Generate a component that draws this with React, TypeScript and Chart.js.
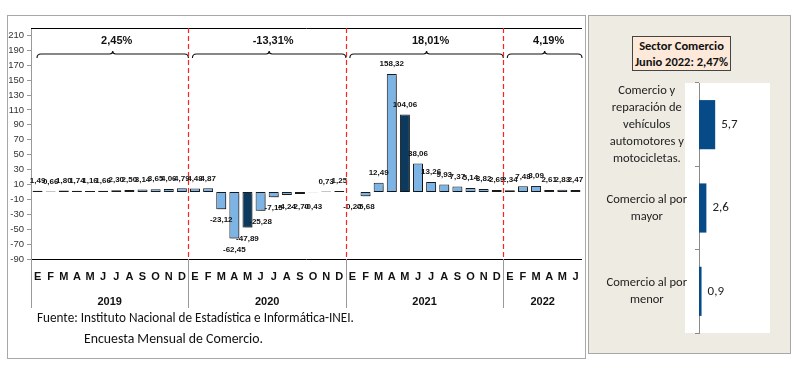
import React, { useEffect, useRef } from 'react';
import { Chart, registerables } from 'chart.js';

Chart.register(...registerables);

// ---------- data ----------
const monthLetters = ['E', 'F', 'M', 'A', 'M', 'J', 'J', 'A', 'S', 'O', 'N', 'D'];
const years = ['2019', '2020', '2021', '2022'];
const values2019 = [1.49, 0.66, 1.8, 1.74, 1.16, 1.66, 2.3, 2.5, 3.14, 3.65, 4.06, 4.79];
const values2020 = [4.48, 4.87, -23.12, -62.45, -47.89, -25.28, -7.15, -4.24, -2.7, -0.43, 0.73, 1.25];
const values2021 = [-0.2, -5.68, 12.49, 158.32, 104.06, 38.06, 13.26, 9.93, 7.37, 5.14, 3.82, 2.69];
const values2022 = [2.34, 7.48, 8.09, 2.61, 2.83, 2.47];
const yearGrowth = ['2,45%', '-13,31%', '18,01%', '4,19%'];
const highlightedMonths = ['2020-5', '2021-5'];
const yTicks = [-90, -70, -50, -30, -10, 10, 30, 50, 70, 90, 110, 130, 150, 170, 190, 210];

const sectorTitle = ['Sector Comercio', 'Junio 2022: 2,47%'];
const sectorCategories = [
  ['Comercio y', 'reparación de', 'vehículos', 'automotores y', 'motocicletas.'],
  ['Comercio al por', 'mayor'],
  ['Comercio al por', 'menor'],
];
const sectorValues = [5.7, 2.6, 0.9];

const sourceLines = ['Fuente: Instituto Nacional de Estadística e Informática-INEI.', 'Encuesta Mensual de Comercio.'];

// ---------- derived ----------
const seriesByYear = [values2019, values2020, values2021, values2022];
const categories: string[] = [];
const values: number[] = [];
const keys: string[] = [];
seriesByYear.forEach((arr, yi) => {
  arr.forEach((v, m) => {
    categories.push(monthLetters[m]);
    values.push(v);
    keys.push(years[yi] + '-' + (m + 1));
  });
});

const NARROW = "'Liberation Sans Narrow', 'Liberation Sans', Arial, sans-serif";
const ARIAL = "'Liberation Sans', Arial, sans-serif";
const CALIBRI = "Carlito, Lato, 'Open Sans', sans-serif";

const fmt = (v: number, d: number) => v.toFixed(d).replace('.', ',');

export default function App() {
  const leftRef = useRef<HTMLCanvasElement>(null);
  const rightRef = useRef<HTMLCanvasElement>(null);

  useEffect(() => {
    document.body.style.margin = '0';

    const leftPlugin = {
      id: 'leftDecor',
      beforeDatasetsDraw(chart: any) {
        const ctx = chart.ctx;
        ctx.save();
        ctx.shadowColor = 'rgba(0,0,0,0.35)';
        ctx.shadowOffsetX = 2;
        ctx.shadowOffsetY = 2;
        ctx.shadowBlur = 2;
      },
      afterDatasetsDraw(chart: any) {
        const ctx = chart.ctx;
        ctx.restore();
        const meta = chart.getDatasetMeta(0);
        const yScale = chart.scales.y;
        const zeroY = yScale.getPixelForValue(0);
        ctx.save();
        ctx.font = `bold 8px ${NARROW}`;
        ctx.fillStyle = '#111';
        ctx.textAlign = 'center';
        ctx.textBaseline = 'middle';
        meta.data.forEach((bar: any, i: number) => {
          const v = values[i];
          const txt = fmt(v, 2);
          let y;
          if (v >= 0) y = bar.y - 10;
          else y = Math.max(bar.y + 11, zeroY + 15);
          ctx.fillText(txt, bar.x, y);
        });
        ctx.restore();
      },
      afterDraw(chart: any) {
        const ctx = chart.ctx;
        const a = chart.chartArea;
        const x = chart.scales.x;
        const half = (x.getPixelForValue(1) - x.getPixelForValue(0)) / 2;
        ctx.save();
        ctx.strokeStyle = '#000';
        ctx.lineWidth = 1;
        ctx.beginPath();
        ctx.moveTo(a.left, a.top + 0.5);
        ctx.lineTo(a.right, a.top + 0.5);
        ctx.moveTo(a.left, a.bottom + 0.5);
        ctx.lineTo(a.right, a.bottom + 0.5);
        ctx.stroke();
        let start = 0;
        seriesByYear.forEach((arr, yi) => {
          const end = start + arr.length - 1;
          const xs = x.getPixelForValue(start) - half;
          const xe = x.getPixelForValue(end) + half;
          ctx.strokeStyle = '#9a9a9a';
          ctx.lineWidth = 1;
          ctx.setLineDash([]);
          ctx.beginPath();
          ctx.moveTo(Math.round(xs) + 0.5, a.bottom);
          ctx.lineTo(Math.round(xs) + 0.5, a.bottom + 49);
          ctx.stroke();
          if (yi > 0) {
            ctx.strokeStyle = '#ff2020';
            ctx.lineWidth = 1.2;
            ctx.setLineDash([5, 3]);
            ctx.beginPath();
            ctx.moveTo(Math.round(xs) + 0.5, a.top);
            ctx.lineTo(Math.round(xs) + 0.5, a.bottom);
            ctx.stroke();
            ctx.setLineDash([]);
          }
          const cx = (x.getPixelForValue(start) + x.getPixelForValue(end)) / 2;
          ctx.fillStyle = '#111';
          ctx.font = `bold 11px ${ARIAL}`;
          ctx.textAlign = 'center';
          ctx.textBaseline = 'middle';
          ctx.fillText(years[yi], cx, a.bottom + 43);
          const bx0 = xs + (yi === 0 ? 6 : 4);
          const bx1 = xe;
          const by = 54;
          const bm = (bx0 + bx1) / 2;
          ctx.strokeStyle = '#111';
          ctx.lineWidth = 1.1;
          ctx.beginPath();
          ctx.moveTo(bx0, by + 4);
          ctx.quadraticCurveTo(bx0, by, bx0 + 4, by);
          ctx.lineTo(bm - 3, by);
          ctx.quadraticCurveTo(bm, by, bm, by - 3);
          ctx.quadraticCurveTo(bm, by, bm + 3, by);
          ctx.lineTo(bx1 - 4, by);
          ctx.quadraticCurveTo(bx1, by, bx1, by + 4);
          ctx.stroke();
          ctx.font = `bold 11px ${ARIAL}`;
          ctx.fillText(yearGrowth[yi], bm + 4, 41);
          start = end + 1;
        });
        ctx.restore();
      },
    };

    const left = new Chart(leftRef.current as HTMLCanvasElement, {
      type: 'bar',
      data: {
        labels: categories,
        datasets: [
          {
            data: values,
            backgroundColor: keys.map((k) => (highlightedMonths.includes(k) ? '#0c3a5f' : '#7db4e6')),
            borderColor: '#1a1a1a',
            borderWidth: 1,
            borderSkipped: false,
            barPercentage: 0.76,
            categoryPercentage: 1,
          },
        ],
      },
      options: {
        responsive: false,
        animation: false,
        events: [],
        layout: { padding: { left: 0, top: 28, right: 8, bottom: 0 } },
        plugins: { legend: { display: false }, tooltip: { enabled: false } },
        scales: {
          x: {
            type: 'category',
            offset: true,
            grid: { display: false, drawTicks: false },
            border: { display: false },
            ticks: {
              autoSkip: false,
              maxRotation: 0,
              padding: 11,
              color: '#111',
              font: { family: ARIAL, size: 11, weight: 'bold' },
            },
            afterFit: (s: any) => {
              s.height = 106;
            },
          },
          y: {
            min: -90,
            max: 220,
            afterBuildTicks: (s: any) => {
              s.ticks = yTicks.map((v) => ({ value: v }));
            },
            grid: { drawOnChartArea: false, drawTicks: true, tickLength: 4, color: '#999' },
            border: { display: true, color: '#999' },
            ticks: {
              padding: 3,
              color: '#333',
              font: { family: NARROW, size: 9.5 },
              callback: (v: any) => String(v),
            },
            afterFit: (s: any) => {
              s.width = 31;
            },
          },
        },
      },
      plugins: [leftPlugin],
    } as any);

    const rightPlugin = {
      id: 'rightDecor',
      beforeDraw(chart: any) {
        const a = chart.chartArea;
        const ctx = chart.ctx;
        ctx.save();
        ctx.fillStyle = '#ffffff';
        ctx.fillRect(a.left - 14, a.top, a.right - a.left + 14, a.bottom - a.top);
        ctx.restore();
      },
      afterDatasetsDraw(chart: any) {
        const ctx = chart.ctx;
        const meta = chart.getDatasetMeta(0);
        ctx.save();
        ctx.font = `13px ${CALIBRI}`;
        ctx.fillStyle = '#222';
        ctx.textAlign = 'left';
        ctx.textBaseline = 'middle';
        meta.data.forEach((bar: any, i: number) => {
          ctx.fillText(fmt(sectorValues[i], 1), bar.x + 6, bar.y);
        });
        ctx.restore();
      },
    };

    const right = new Chart(rightRef.current as HTMLCanvasElement, {
      type: 'bar',
      data: {
        labels: sectorCategories,
        datasets: [
          {
            data: sectorValues,
            backgroundColor: '#064b88',
            borderWidth: 0,
            barPercentage: 0.59,
            categoryPercentage: 1,
          },
        ],
      },
      options: {
        indexAxis: 'y',
        responsive: false,
        animation: false,
        events: [],
        layout: { padding: { left: 0, top: 68, right: 20, bottom: 20 } },
        plugins: { legend: { display: false }, tooltip: { enabled: false } },
        scales: {
          x: { display: false, min: 0, max: 25 },
          y: {
            offset: true,
            grid: { offset: true, drawOnChartArea: false, drawTicks: true, tickLength: 4, color: '#8a8a8a' },
            border: { display: true, color: '#8a8a8a' },
            ticks: {
              autoSkip: false,
              crossAlign: 'center',
              padding: 8,
              color: '#222',
              font: { family: CALIBRI, size: 12.5, lineHeight: 1.36 },
            },
            afterFit: (s: any) => {
              s.width = 111;
              s.paddingTop = 0;
              s.paddingBottom = 0;
            },
          },
        },
      },
      plugins: [rightPlugin],
    } as any);

    return () => {
      left.destroy();
      right.destroy();
    };
  }, []);

  return (
    <div style={{ position: 'relative', width: 800, height: 365, overflow: 'hidden', background: '#fff' }}>
      <div
        style={{
          position: 'absolute',
          left: 7,
          top: 15,
          width: 577,
          height: 342,
          border: '1px solid #a8a8a8',
          background: '#fff',
        }}
      />
      <canvas ref={leftRef} width={590} height={365} style={{ position: 'absolute', left: 0, top: 0 }} />
      <div
        style={{
          position: 'absolute',
          left: 37,
          top: 309,
          fontFamily: CALIBRI,
          fontSize: 13.2,
          color: '#111',
          whiteSpace: 'nowrap',
          lineHeight: '18px',
        }}
      >
        {sourceLines[0]}
      </div>
      <div
        style={{
          position: 'absolute',
          left: 84,
          top: 330,
          fontFamily: CALIBRI,
          fontSize: 13.8,
          color: '#111',
          whiteSpace: 'nowrap',
          lineHeight: '18px',
        }}
      >
        {sourceLines[1]}
      </div>
      <div
        style={{
          position: 'absolute',
          left: 588,
          top: 15,
          width: 201,
          height: 337,
          border: '1px solid #a8a8a8',
          background: '#eeebe2',
        }}
      />
      <canvas ref={rightRef} width={202} height={338} style={{ position: 'absolute', left: 588, top: 15 }} />
      <div
        style={{
          position: 'absolute',
          left: 632,
          top: 36,
          width: 99,
          height: 35,
          border: '1px solid #444',
          background: '#fde9d9',
          fontFamily: CALIBRI,
          fontWeight: 'bold',
          fontSize: 12.5,
          lineHeight: '16px',
          textAlign: 'center',
          color: '#111',
          paddingTop: 1,
          boxSizing: 'border-box',
        }}
      >
        <div>{sectorTitle[0]}</div>
        <div>{sectorTitle[1]}</div>
      </div>
    </div>
  );
}
